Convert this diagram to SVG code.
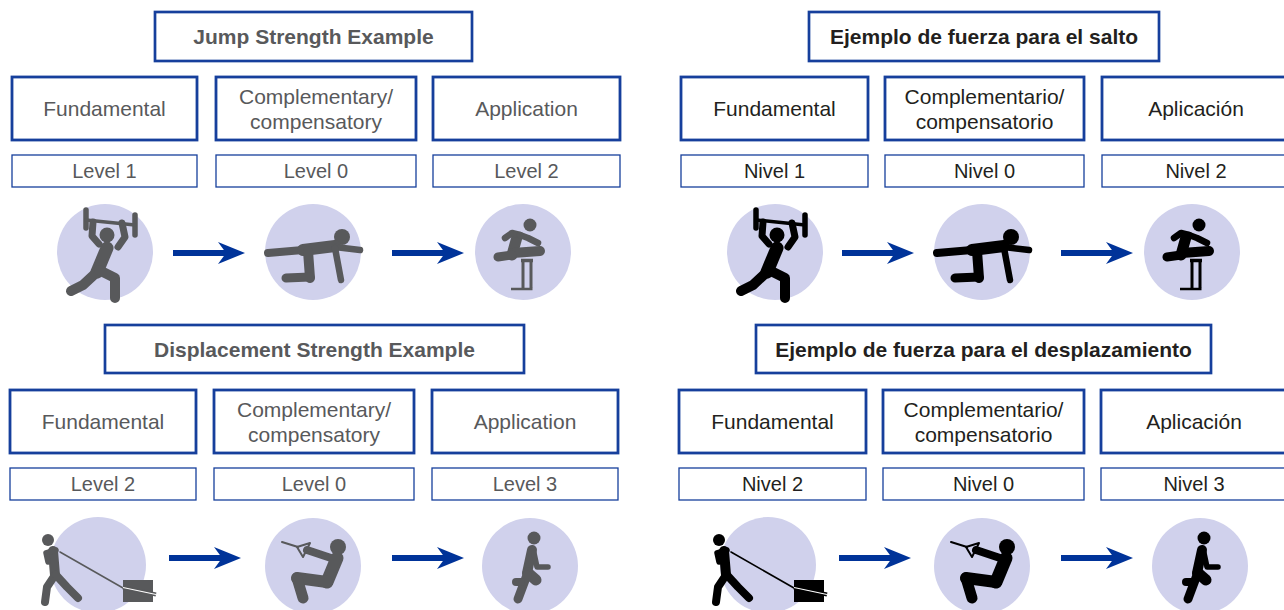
<svg xmlns="http://www.w3.org/2000/svg" xmlns:xlink="http://www.w3.org/1999/xlink" width="1284" height="610" viewBox="0 0 1284 610">
<style>
.tbox{fill:#fff;stroke:#163f9c;stroke-width:2.7}
.cbox{fill:#fff;stroke:#163f9c;stroke-width:2.8}
.lbox{fill:#fff;stroke:#163f9c;stroke-width:1.3}
.circ{fill:#d0d1ec}
text{font-family:"Liberation Sans",Arial,Helvetica,sans-serif;text-anchor:middle}
.t{font-size:21px;font-weight:bold}
.c{font-size:21px}
.l{font-size:20px}
.en{fill:#58595b}
.es{fill:#231f20}
.arrow{fill:#003399}
</style>
<defs>
<path id="arr" d="M0,-2.9 L50.9,-2.9 L45,-11 L72,0 L45,11 L50.9,2.9 L0,2.9 Z"/>
<g id="lifter" fill="none" stroke="currentColor" stroke-linecap="round" stroke-linejoin="round">
<line x1="-19" y1="-42" x2="-19" y2="-24" stroke-width="5.5"/>
<line x1="30" y1="-37" x2="30" y2="-17" stroke-width="5.5"/>
<line x1="-19" y1="-32" x2="30" y2="-27" stroke-width="3.5"/>
<polyline points="-12,-30 -13,-16 -6,-8" stroke-width="7"/>
<polyline points="17,-29 20,-15 13,-5" stroke-width="7"/>
<circle cx="2" cy="-17" r="7.5" fill="currentColor" stroke="none"/>
<line x1="2" y1="-4" x2="-8" y2="20" stroke-width="13"/>
<polyline points="-8,20 -22,33 -34,39" stroke-width="10"/>
<polyline points="-6,18 10,26 10,46" stroke-width="10"/>
</g>
<g id="crawler" fill="none" stroke="currentColor" stroke-linecap="round" stroke-linejoin="round">
<circle cx="29" cy="-15" r="8" fill="currentColor" stroke="none"/>
<line x1="-45" y1="1" x2="-10" y2="-2" stroke-width="8"/>
<line x1="-10" y1="-2" x2="22" y2="-6" stroke-width="12"/>
<line x1="22" y1="-5" x2="47" y2="-2" stroke-width="6.5"/>
<line x1="22" y1="-4" x2="28" y2="28" stroke-width="6.5"/>
<line x1="-5" y1="-1" x2="-3" y2="26" stroke-width="10"/>
<line x1="-3" y1="25" x2="-27" y2="26" stroke-width="9"/>
</g>
<g id="hurdler" fill="none" stroke="currentColor" stroke-linecap="round" stroke-linejoin="round">
<circle cx="7" cy="-27" r="6.5" fill="currentColor" stroke="none"/>
<line x1="-6" y1="-15" x2="-11" y2="3" stroke-width="11"/>
<polyline points="-3,-17 -11,-19 -18,-14" stroke-width="6.5"/>
<polyline points="-3,-17 5,-14 15,-9" stroke-width="6.5"/>
<line x1="-10" y1="1" x2="17" y2="-1" stroke-width="10"/>
<line x1="-11" y1="3" x2="-25" y2="5" stroke-width="9"/>
<g stroke-linecap="butt">
<line x1="0" y1="8" x2="0" y2="36" stroke-width="3"/>
<line x1="8" y1="8" x2="8" y2="36" stroke-width="3"/>
<line x1="-2" y1="8.5" x2="10" y2="8.5" stroke-width="3.5"/>
<line x1="-12" y1="37" x2="9.5" y2="37" stroke-width="2.5"/>
</g>
</g>
<g id="puller" fill="none" stroke="currentColor" stroke-linecap="round" stroke-linejoin="round">
<circle cx="-52" cy="-25" r="6" fill="currentColor" stroke="none"/>
<line x1="-47" y1="-14" x2="-45" y2="10" stroke-width="10"/>
<polyline points="-44,-15 -54,-12 -52,-3" stroke-width="5.5"/>
<polyline points="-45,10 -53,22 -55,37" stroke-width="8"/>
<polyline points="-44,10 -33,22 -22,33" stroke-width="8"/>
<line x1="-40" y1="-13" x2="23" y2="23" stroke-width="1.6"/>
<rect x="23" y="15" width="30" height="22" fill="currentColor" stroke="none"/>
<line x1="23" y1="22.5" x2="56" y2="29.5" stroke-width="4" stroke-linecap="butt"/>
<line x1="23" y1="22.5" x2="56" y2="29.5" stroke="#fff" stroke-width="1.2" stroke-linecap="butt"/>
</g>
<g id="cable" fill="none" stroke="currentColor" stroke-linecap="round" stroke-linejoin="round">
<circle cx="25" cy="-19" r="8" fill="currentColor" stroke="none"/>
<line x1="-31" y1="-24" x2="-15" y2="-19" stroke-width="2"/>
<polygon points="-16,-19 -3,-23 -10,-9" stroke-width="2"/>
<line x1="-6" y1="-16" x2="24" y2="-6" stroke-width="8"/>
<line x1="24" y1="-8" x2="14" y2="16" stroke-width="13"/>
<line x1="14" y1="16" x2="-16" y2="12" stroke-width="12"/>
<line x1="-16" y1="12" x2="-10" y2="32" stroke-width="11"/>
</g>
<g id="runner" fill="none" stroke="currentColor" stroke-linecap="round" stroke-linejoin="round">
<circle cx="4" cy="-28" r="6.5" fill="currentColor" stroke="none"/>
<line x1="2" y1="-16" x2="-3" y2="7" stroke-width="10"/>
<polyline points="4,-13 7,1 18,1" stroke-width="5.5"/>
<line x1="-2" y1="7" x2="6" y2="14" stroke-width="11"/>
<line x1="-3" y1="9" x2="-12" y2="33" stroke-width="9"/>
<line x1="-14" y1="16" x2="-9" y2="16" stroke-width="8"/>
</g>
</defs>

<!-- LEFT: Jump Strength Example -->
<g id="title-jump">
<rect class="tbox" x="155" y="12" width="317" height="49"/>
<text class="t en" x="313.5" y="44">Jump Strength Example</text>
</g>
<g id="jump-fundamental">
<rect class="cbox" x="12" y="77" width="185" height="63"/>
<text class="c en" x="104.5" y="116">Fundamental</text>
</g>
<g id="jump-complementary">
<rect class="cbox" x="216" y="77" width="200" height="63"/>
<text class="c en" x="316" y="103.5">Complementary/</text>
<text class="c en" x="316" y="128.5">compensatory</text>
</g>
<g id="jump-application">
<rect class="cbox" x="433" y="77" width="187" height="63"/>
<text class="c en" x="526.5" y="116">Application</text>
</g>
<g id="jump-level-1">
<rect class="lbox" x="12" y="155" width="185" height="32"/>
<text class="l en" x="104.5" y="178">Level 1</text>
</g>
<g id="jump-level-0">
<rect class="lbox" x="216" y="155" width="200" height="32"/>
<text class="l en" x="316" y="178">Level 0</text>
</g>
<g id="jump-level-2">
<rect class="lbox" x="433" y="155" width="187" height="32"/>
<text class="l en" x="526.5" y="178">Level 2</text>
</g>
<g id="jump-icon-1"><circle class="circ" cx="105" cy="252" r="48"/><use href="#lifter" transform="translate(105,252)" color="#58595b"/></g>
<g id="jump-icon-2"><circle class="circ" cx="313" cy="252" r="48"/><use href="#crawler" transform="translate(313,252)" color="#58595b"/></g>
<g id="jump-icon-3"><circle class="circ" cx="523" cy="252" r="48"/><use href="#hurdler" transform="translate(523,252)" color="#58595b"/></g>

<!-- LEFT: Displacement Strength Example -->
<g id="title-displacement">
<rect class="tbox" x="105" y="325" width="419" height="48"/>
<text class="t en" x="314.5" y="357">Displacement Strength Example</text>
</g>
<g id="disp-fundamental">
<rect class="cbox" x="10" y="390" width="186" height="63"/>
<text class="c en" x="103" y="429">Fundamental</text>
</g>
<g id="disp-complementary">
<rect class="cbox" x="214" y="390" width="200" height="63"/>
<text class="c en" x="314" y="416.5">Complementary/</text>
<text class="c en" x="314" y="441.5">compensatory</text>
</g>
<g id="disp-application">
<rect class="cbox" x="432" y="390" width="186" height="63"/>
<text class="c en" x="525" y="429">Application</text>
</g>
<g id="disp-level-2">
<rect class="lbox" x="10" y="468" width="186" height="32"/>
<text class="l en" x="103" y="491">Level 2</text>
</g>
<g id="disp-level-0">
<rect class="lbox" x="214" y="468" width="200" height="32"/>
<text class="l en" x="314" y="491">Level 0</text>
</g>
<g id="disp-level-3">
<rect class="lbox" x="432" y="468" width="186" height="32"/>
<text class="l en" x="525" y="491">Level 3</text>
</g>
<g id="disp-icon-1"><circle class="circ" cx="98" cy="565" r="48"/><use href="#puller" transform="translate(100,565)" color="#58595b"/></g>
<g id="disp-icon-2"><circle class="circ" cx="313" cy="566" r="48"/><use href="#cable" transform="translate(313,566)" color="#58595b"/></g>
<g id="disp-icon-3"><circle class="circ" cx="530" cy="566" r="48"/><use href="#runner" transform="translate(530,566)" color="#58595b"/></g>

<!-- RIGHT: Ejemplo de fuerza para el salto -->
<g id="titulo-salto">
<rect class="tbox" x="809" y="12" width="350" height="49"/>
<text class="t es" x="984" y="44">Ejemplo de fuerza para el salto</text>
</g>
<g id="salto-fundamental">
<rect class="cbox" x="681" y="77" width="187" height="63"/>
<text class="c es" x="774.5" y="116">Fundamental</text>
</g>
<g id="salto-complementario">
<rect class="cbox" x="885" y="77" width="199" height="63"/>
<text class="c es" x="984.5" y="103.5">Complementario/</text>
<text class="c es" x="984.5" y="128.5">compensatorio</text>
</g>
<g id="salto-aplicacion">
<rect class="cbox" x="1102" y="77" width="190" height="63"/>
<text class="c es" x="1196" y="116">Aplicación</text>
</g>
<g id="salto-nivel-1">
<rect class="lbox" x="681" y="155" width="187" height="32"/>
<text class="l es" x="774.5" y="178">Nivel 1</text>
</g>
<g id="salto-nivel-0">
<rect class="lbox" x="885" y="155" width="199" height="32"/>
<text class="l es" x="984.5" y="178">Nivel 0</text>
</g>
<g id="salto-nivel-2">
<rect class="lbox" x="1102" y="155" width="190" height="32"/>
<text class="l es" x="1196" y="178">Nivel 2</text>
</g>
<g id="salto-icon-1"><circle class="circ" cx="775" cy="252" r="48"/><use href="#lifter" transform="translate(775,252)" color="#000"/></g>
<g id="salto-icon-2"><circle class="circ" cx="982" cy="252" r="48"/><use href="#crawler" transform="translate(982,252)" color="#000"/></g>
<g id="salto-icon-3"><circle class="circ" cx="1192" cy="252" r="48"/><use href="#hurdler" transform="translate(1192,252)" color="#000"/></g>

<!-- RIGHT: Ejemplo de fuerza para el desplazamiento -->
<g id="titulo-desplazamiento">
<rect class="tbox" x="756" y="325" width="455" height="48"/>
<text class="t es" x="983.5" y="357">Ejemplo de fuerza para el desplazamiento</text>
</g>
<g id="despl-fundamental">
<rect class="cbox" x="679" y="390" width="187" height="63"/>
<text class="c es" x="772.5" y="429">Fundamental</text>
</g>
<g id="despl-complementario">
<rect class="cbox" x="883" y="390" width="201" height="63"/>
<text class="c es" x="983.5" y="416.5">Complementario/</text>
<text class="c es" x="983.5" y="441.5">compensatorio</text>
</g>
<g id="despl-aplicacion">
<rect class="cbox" x="1101" y="390" width="190" height="63"/>
<text class="c es" x="1194" y="429">Aplicación</text>
</g>
<g id="despl-nivel-2">
<rect class="lbox" x="679" y="468" width="187" height="32"/>
<text class="l es" x="772.5" y="491">Nivel 2</text>
</g>
<g id="despl-nivel-0">
<rect class="lbox" x="883" y="468" width="201" height="32"/>
<text class="l es" x="983.5" y="491">Nivel 0</text>
</g>
<g id="despl-nivel-3">
<rect class="lbox" x="1101" y="468" width="190" height="32"/>
<text class="l es" x="1194" y="491">Nivel 3</text>
</g>
<g id="despl-icon-1"><circle class="circ" cx="768" cy="565" r="48"/><use href="#puller" transform="translate(771,565)" color="#000"/></g>
<g id="despl-icon-2"><circle class="circ" cx="982" cy="566" r="48"/><use href="#cable" transform="translate(982,566)" color="#000"/></g>
<g id="despl-icon-3"><circle class="circ" cx="1200" cy="566" r="48"/><use href="#runner" transform="translate(1200,566)" color="#000"/></g>

<g id="connectors" class="arrow">
<use href="#arr" transform="translate(173,253)"/>
<use href="#arr" transform="translate(392,253)"/>
<use href="#arr" transform="translate(169,558)"/>
<use href="#arr" transform="translate(392,558)"/>
<use href="#arr" transform="translate(842,253)"/>
<use href="#arr" transform="translate(1061,253)"/>
<use href="#arr" transform="translate(839,558)"/>
<use href="#arr" transform="translate(1061,558)"/>
</g>
</svg>
